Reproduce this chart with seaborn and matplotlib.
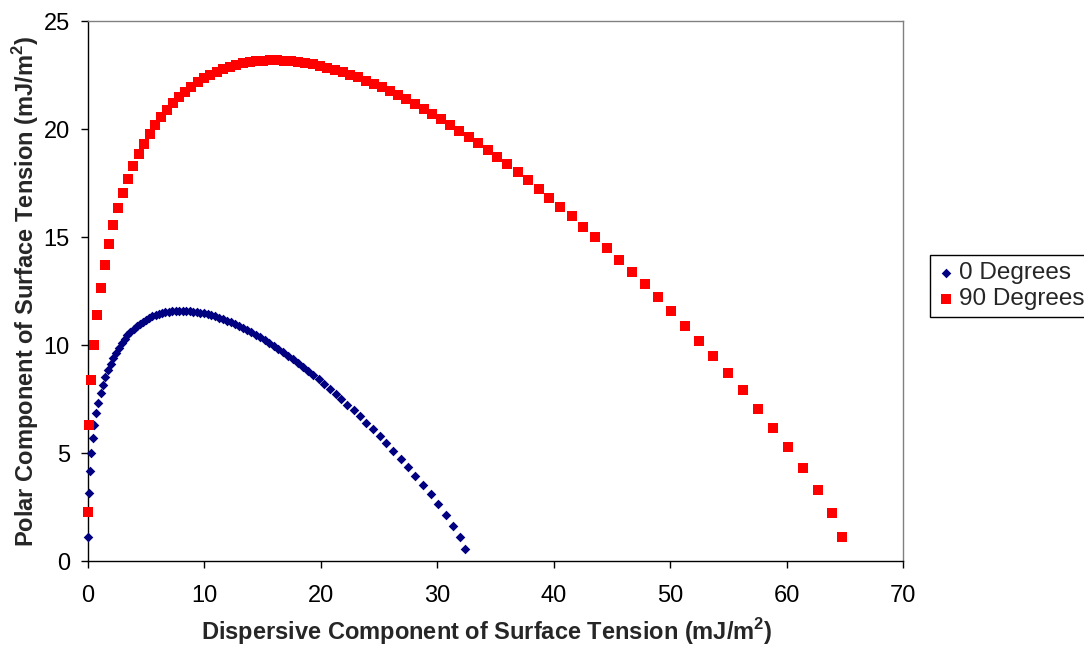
import matplotlib
matplotlib.use("Agg")
import matplotlib.pyplot as plt
import seaborn as sns

# dispersive / polar components (one point per degree of polarity)
red_x = [64.77, 63.86, 62.70, 61.44, 60.14, 58.83, 57.52, 56.23, 54.95, 53.70,
         52.47, 51.26, 50.08, 48.93, 47.80, 46.70, 45.62, 44.57, 43.54, 42.53,
         41.54, 40.57, 39.63, 38.70, 37.79, 36.90, 36.03, 35.17, 34.33, 33.50,
         32.69, 31.89, 31.10, 30.33, 29.57, 28.82, 28.08, 27.35, 26.63, 25.93,
         25.23, 24.54, 23.85, 23.18, 22.52, 21.86, 21.21, 20.56, 19.93, 19.30,
         18.67, 18.05, 17.44, 16.83, 16.23, 15.64, 15.05, 14.46, 13.88, 13.30,
         12.73, 12.16, 11.60, 11.05, 10.49, 9.95, 9.41, 8.87, 8.34, 7.82,
         7.30, 6.79, 6.28, 5.78, 5.29, 4.81, 4.34, 3.89, 3.44, 3.00,
         2.59, 2.18, 1.80, 1.44, 1.10, 0.80, 0.52, 0.29, 0.11, 0.00]
red_y = [1.13, 2.23, 3.29, 4.30, 5.26, 6.18, 7.06, 7.90, 8.70, 9.47,
         10.20, 10.90, 11.56, 12.20, 12.81, 13.39, 13.95, 14.48, 14.99, 15.48,
         15.95, 16.39, 16.82, 17.23, 17.62, 18.00, 18.36, 18.70, 19.03, 19.34,
         19.64, 19.93, 20.20, 20.46, 20.70, 20.94, 21.16, 21.37, 21.57, 21.75,
         21.93, 22.09, 22.24, 22.39, 22.52, 22.63, 22.74, 22.84, 22.92, 23.00,
         23.06, 23.11, 23.14, 23.17, 23.18, 23.18, 23.17, 23.14, 23.10, 23.04,
         22.97, 22.88, 22.77, 22.65, 22.51, 22.34, 22.16, 21.96, 21.73, 21.47,
         21.19, 20.88, 20.54, 20.17, 19.76, 19.31, 18.82, 18.28, 17.68, 17.04,
         16.32, 15.54, 14.67, 13.70, 12.62, 11.40, 10.01, 8.36, 6.31, 2.25]

blue_x = [32.38, 31.93, 31.35, 30.72, 30.07, 29.42, 28.76, 28.11, 27.48, 26.85,
          26.23, 25.63, 25.04, 24.47, 23.90, 23.35, 22.81, 22.28, 21.77, 21.26,
          20.77, 20.29, 19.81, 19.35, 18.90, 18.45, 18.01, 17.59, 17.16, 16.75,
          16.34, 15.94, 15.55, 15.16, 14.78, 14.41, 14.04, 13.68, 13.32, 12.96,
          12.61, 12.27, 11.93, 11.59, 11.26, 10.93, 10.60, 10.28, 9.96, 9.65,
          9.34, 9.03, 8.72, 8.42, 8.12, 7.82, 7.52, 7.23, 6.94, 6.65,
          6.37, 6.08, 5.80, 5.52, 5.25, 4.97, 4.70, 4.44, 4.17, 3.91,
          3.65, 3.39, 3.14, 2.89, 2.65, 2.41, 2.17, 1.94, 1.72, 1.50,
          1.29, 1.09, 0.90, 0.72, 0.55, 0.40, 0.26, 0.15, 0.06, 0.00]
blue_y = [0.57, 1.12, 1.64, 2.15, 2.63, 3.09, 3.53, 3.95, 4.35, 4.73,
          5.10, 5.45, 5.78, 6.10, 6.40, 6.70, 6.97, 7.24, 7.50, 7.74,
          7.97, 8.20, 8.41, 8.62, 8.81, 9.00, 9.18, 9.35, 9.51, 9.67,
          9.82, 9.96, 10.10, 10.23, 10.35, 10.47, 10.58, 10.68, 10.78, 10.88,
          10.96, 11.05, 11.12, 11.19, 11.26, 11.32, 11.37, 11.42, 11.46, 11.50,
          11.53, 11.55, 11.57, 11.58, 11.59, 11.59, 11.58, 11.57, 11.55, 11.52,
          11.48, 11.44, 11.39, 11.32, 11.25, 11.17, 11.08, 10.98, 10.86, 10.74,
          10.60, 10.44, 10.27, 10.08, 9.88, 9.65, 9.41, 9.14, 8.84, 8.52,
          8.16, 7.77, 7.33, 6.85, 6.31, 5.70, 5.00, 4.18, 3.15, 1.13]

series_labels = ["0 Degrees", "90 Degrees"]
x_ticks = [0, 10, 20, 30, 40, 50, 60, 70]
y_ticks = [0, 5, 10, 15, 20, 25]

sns.set_style("ticks")
plt.rcParams["font.family"] = ["Liberation Sans", "DejaVu Sans"]
plt.rcParams["mathtext.fontset"] = "custom"
plt.rcParams["mathtext.rm"] = "Liberation Sans"
plt.rcParams["mathtext.bf"] = "Liberation Sans:bold"

W, H = 1084, 646
fig, ax = plt.subplots(figsize=(W / 100, H / 100), dpi=100)
fig.subplots_adjust(left=88 / W, right=903 / W, top=1 - 21 / H, bottom=1 - 561 / H)

sns.scatterplot(x=blue_x, y=blue_y, ax=ax, marker="D", color="#000080", s=24,
                linewidth=0, label=series_labels[0], clip_on=False, zorder=3)
sns.scatterplot(x=red_x, y=red_y, ax=ax, marker="s", color="#FF0000", s=48,
                linewidth=0, label=series_labels[1], clip_on=False, zorder=4)

ax.set_xlim(0, 70)
ax.set_ylim(0, 25)
ax.set_xticks(x_ticks)
ax.set_yticks(y_ticks)
ax.tick_params(direction="out", length=5, width=1, colors="black", labelsize=17)
ax.tick_params(axis="x", pad=12)
ax.tick_params(axis="y", pad=8)
for side in ["top", "right"]:
    ax.spines[side].set_color("#808080")
    ax.spines[side].set_linewidth(1)
for side in ["left", "bottom"]:
    ax.spines[side].set_color("black")
    ax.spines[side].set_linewidth(1)

ax.set_xlabel(r"Dispersive Component of Surface Tension (mJ/m$^\mathbf{2}$)",
              fontsize=17, fontweight="bold", va="center")
ax.set_ylabel(r"Polar Component of Surface Tension (mJ/m$^\mathbf{2}$)",
              fontsize=17, fontweight="bold", va="center")
ax.xaxis.set_label_coords(487 / W, 1 - 632 / H, transform=fig.transFigure)
ax.yaxis.set_label_coords(26 / W, 1 - 291 / H, transform=fig.transFigure)

leg = ax.legend(loc="upper left", bbox_to_anchor=(930 / W, 1 - 255 / H),
                bbox_transform=fig.transFigure, frameon=True, fancybox=False,
                framealpha=1, edgecolor="black", fontsize=17.5, borderaxespad=0,
                handletextpad=0.2, handlelength=0.7, borderpad=0.3, labelspacing=0.15)
leg.get_frame().set_linewidth(1)

fig.savefig("out.png", dpi=100)
